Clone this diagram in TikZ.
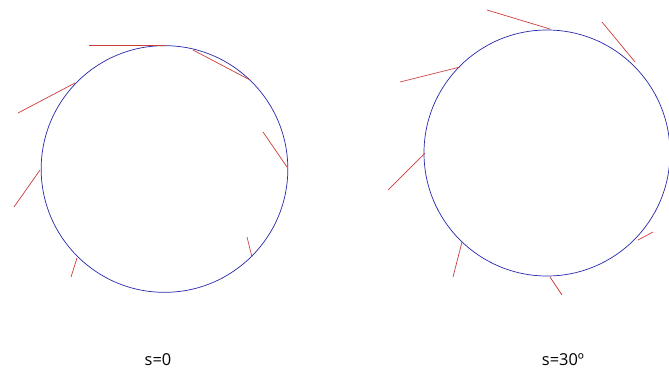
\documentclass[tikz,border=0pt]{standalone}
\usepackage{fontspec}
\setmainfont{Open Sans}
\usepackage{xcolor}
\usetikzlibrary{positioning}

\definecolor{ringblue}{RGB}{40,40,170}
\definecolor{tickred}{RGB}{205,60,60}

\begin{document}
\begin{tikzpicture}[
          x=0.03cm, y=-0.03cm,
          ring/.style={draw=ringblue, line width=0.6pt},
          tick/.style={draw=tickred, line width=0.6pt},
          lbl/.style={font=\fontsize{14}{16}\selectfont, anchor=base, inner sep=0pt}
      ]
        \useasboundingbox (0,0) rectangle (669,369);
        \coordinate (cA) at (164.5,169);
        \coordinate (cB) at (547,153);
        % s=0
        \draw[ring] (cA) circle[radius=3.7cm];
        \draw[tick] (89,45) -- (165,45);
        \draw[tick] (193,50) -- (250,80);
        \draw[tick] (18,113) -- (75,83);
        \draw[tick] (263,132) -- (287,167);
        \draw[tick] (40,170) -- (14,207);
        \draw[tick] (247,237) -- (252,257);
        \draw[tick] (77,258) -- (71,277);
        \node[lbl] (sA) at (158,365) {s=0};
        % s=30
        \draw[ring] (cB) circle[radius=3.69cm];
        \draw[tick] (487,10) -- (550,29);
        \draw[tick] (602,22) -- (635,62);
        \draw[tick] (400,82) -- (460,67);
        \draw[tick] (388,190) -- (425,153);
        \draw[tick] (638,240) -- (653,232);
        \draw[tick] (462,242) -- (453,277);
        \draw[tick] (550,277) -- (562,295);
        \node[lbl] (sB) at (563,365) {s=30º};
      \end{tikzpicture}
\end{document}
